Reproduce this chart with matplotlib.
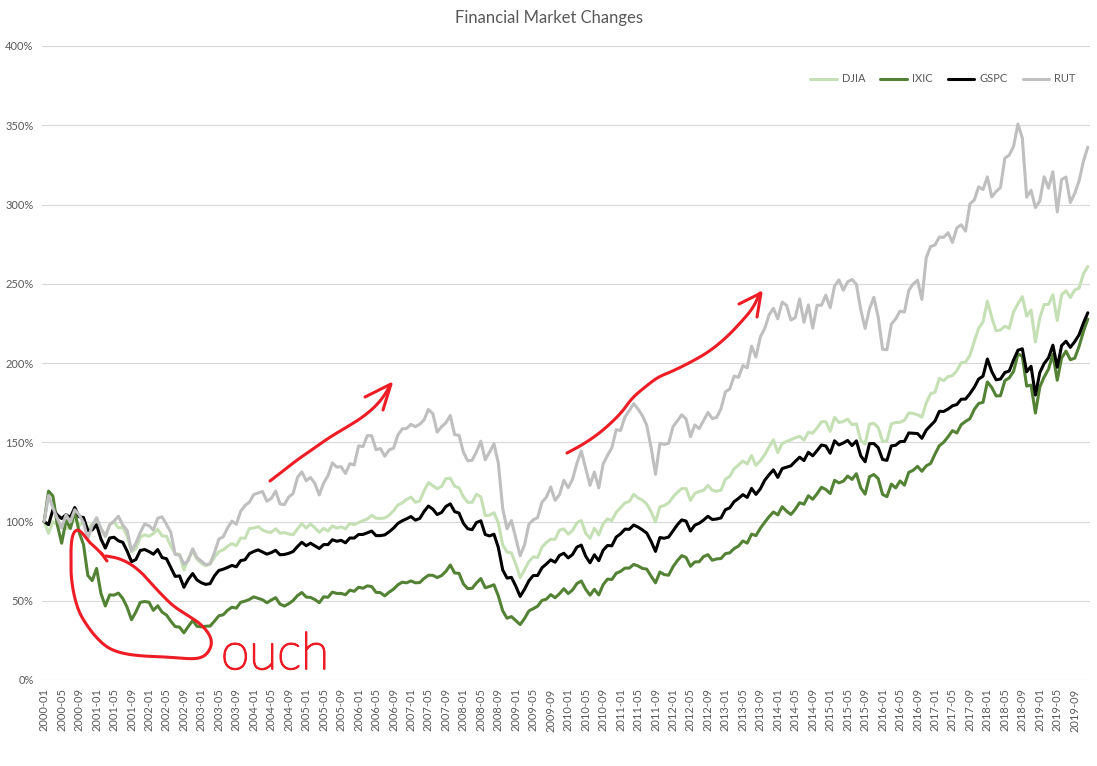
import matplotlib
matplotlib.use("Agg")
import matplotlib.pyplot as plt
import matplotlib.patheffects as pe
import numpy as np
from matplotlib.lines import Line2D
from matplotlib.transforms import Affine2D

plt.rcParams['font.family'] = ['Lato', 'DejaVu Sans']

# ---------------- data ----------------
months = [f"{y}-{m:02d}" for y in range(2000, 2020) for m in range(1, 13)]

djia_close = [
    10940.53, 10128.31, 10921.92, 10733.91, 10522.33, 10447.89, 10521.98, 11215.10, 10650.92, 10971.14, 10414.49, 10786.85,
    10887.36, 10495.28, 9878.78, 10734.97, 10911.94, 10502.40, 10522.81, 9949.75, 8847.56, 9075.14, 9851.56, 10021.50,
    9920.00, 10106.13, 10403.94, 9946.22, 9925.25, 9243.26, 8736.59, 8663.50, 7591.93, 8397.03, 8896.09, 8341.63,
    8053.81, 7891.08, 7992.13, 8480.09, 8850.26, 8985.44, 9233.80, 9415.82, 9275.06, 9801.12, 9782.46, 10453.92,
    10488.07, 10583.92, 10357.70, 10225.57, 10188.45, 10435.48, 10139.71, 10173.92, 10080.27, 10027.47, 10428.02, 10783.01,
    10489.94, 10766.23, 10503.76, 10192.51, 10467.48, 10274.97, 10640.91, 10481.60, 10568.70, 10440.07, 10805.87, 10717.50,
    10864.86, 10993.41, 11109.32, 11367.14, 11168.31, 11150.22, 11185.68, 11381.15, 11679.07, 12080.73, 12221.93, 12463.15,
    12621.69, 12268.63, 12354.35, 13062.91, 13627.64, 13408.62, 13211.99, 13357.74, 13895.63, 13930.01, 13371.72, 13264.82,
    12650.36, 12266.39, 12262.89, 12820.13, 12638.32, 11350.01, 11378.02, 11543.55, 10850.66, 9325.01, 8829.04, 8776.39,
    8000.86, 7062.93, 7608.92, 8168.12, 8500.33, 8447.00, 9171.61, 9496.28, 9712.28, 9712.73, 10344.84, 10428.05,
    10067.33, 10325.26, 10856.63, 11008.61, 10136.63, 9774.02, 10465.94, 10014.72, 10788.05, 11118.49, 11006.02, 11577.51,
    11891.93, 12226.34, 12319.73, 12810.54, 12569.79, 12414.34, 12143.24, 11613.53, 10913.38, 11955.01, 12045.68, 12217.56,
    12632.91, 12952.07, 13212.04, 13213.63, 12393.45, 12880.09, 13008.68, 13090.84, 13437.13, 13096.46, 13025.58, 13104.14,
    13860.58, 14054.49, 14578.54, 14839.80, 15115.57, 14909.60, 15499.54, 14810.31, 15129.67, 15545.75, 16086.41, 16576.66,
    15698.85, 16321.71, 16457.66, 16580.84, 16717.17, 16826.60, 16563.30, 17098.45, 17042.90, 17390.52, 17828.24, 17823.07,
    17164.95, 18132.70, 17776.12, 17840.52, 18010.68, 17619.51, 17689.86, 16528.03, 16284.70, 17663.54, 17719.92, 17425.03,
    16466.30, 16516.50, 17685.09, 17773.64, 17787.20, 17929.99, 18432.24, 18400.88, 18308.15, 18142.42, 19123.58, 19762.60,
    19864.09, 20812.24, 20663.22, 20940.51, 21008.65, 21349.63, 21891.12, 21948.10, 22405.09, 23377.24, 24272.35, 24719.22,
    26149.39, 25029.20, 24103.11, 24163.15, 24415.84, 24271.41, 25415.19, 25964.82, 26458.31, 25115.76, 25538.46, 23327.46,
    24999.67, 25916.00, 25928.68, 26592.91, 24815.04, 26599.96, 26864.27, 26403.28, 26916.83, 27046.23, 28051.41, 28538.44,
]

ixic_close = [
    3940.35, 4696.69, 4572.83, 3860.66, 3400.91, 3966.11, 3766.99, 4206.35, 3672.82, 3369.63, 2597.93, 2470.52,
    2772.73, 2151.83, 1840.26, 2116.24, 2110.49, 2160.54, 2027.13, 1805.43, 1498.80, 1690.20, 1930.58, 1950.40,
    1934.03, 1731.49, 1845.35, 1688.23, 1615.73, 1463.21, 1328.26, 1314.85, 1172.06, 1329.75, 1478.78, 1335.51,
    1320.91, 1337.52, 1341.17, 1464.31, 1595.91, 1622.80, 1735.02, 1810.45, 1786.94, 1932.21, 1960.26, 2003.37,
    2066.15, 2029.82, 1994.22, 1920.15, 1986.74, 2047.79, 1887.36, 1838.10, 1896.84, 1974.99, 2096.81, 2175.44,
    2062.41, 2051.72, 1999.23, 1921.65, 2068.22, 2056.96, 2184.83, 2152.09, 2151.69, 2120.30, 2232.82, 2205.32,
    2305.82, 2281.39, 2339.79, 2322.57, 2178.88, 2172.09, 2091.47, 2183.75, 2258.43, 2366.71, 2431.77, 2415.29,
    2463.93, 2416.15, 2421.64, 2525.09, 2604.52, 2603.23, 2546.27, 2596.36, 2701.50, 2859.12, 2660.96, 2652.28,
    2389.86, 2271.48, 2279.10, 2412.80, 2522.66, 2292.98, 2325.55, 2367.52, 2091.88, 1720.95, 1535.57, 1577.03,
    1476.42, 1377.84, 1528.59, 1717.30, 1774.33, 1835.04, 1978.50, 2009.06, 2122.42, 2045.11, 2144.60, 2269.15,
    2147.35, 2238.26, 2397.96, 2461.19, 2257.04, 2109.24, 2254.70, 2114.03, 2368.62, 2507.41, 2498.23, 2652.87,
    2700.08, 2782.27, 2781.07, 2873.54, 2835.30, 2773.52, 2756.38, 2579.46, 2415.40, 2684.41, 2620.34, 2605.15,
    2813.84, 2966.89, 3091.57, 3046.36, 2827.34, 2935.05, 2939.52, 3066.96, 3116.23, 2977.23, 3010.24, 3019.51,
    3142.13, 3160.19, 3267.52, 3328.79, 3455.91, 3403.25, 3626.37, 3589.87, 3771.48, 3919.71, 4059.89, 4176.59,
    4103.88, 4308.12, 4198.99, 4114.56, 4242.62, 4408.18, 4369.77, 4580.27, 4493.39, 4630.74, 4791.63, 4736.05,
    4635.24, 4963.53, 4900.88, 4941.42, 5070.03, 4986.87, 5128.28, 4776.51, 4620.16, 5053.75, 5108.67, 5007.41,
    4613.95, 4557.95, 4869.85, 4775.36, 4948.05, 4842.67, 5162.13, 5213.22, 5312.00, 5189.13, 5323.68, 5383.12,
    5614.79, 5825.44, 5911.74, 6047.61, 6198.52, 6140.42, 6348.12, 6428.66, 6495.96, 6727.67, 6873.97, 6903.39,
    7411.48, 7273.01, 7063.45, 7066.27, 7442.12, 7510.30, 7671.79, 8109.54, 8046.35, 7305.90, 7330.54, 6635.28,
    7281.74, 7532.53, 7729.32, 8095.39, 7453.15, 8006.24, 8175.42, 7962.88, 7999.34, 8292.36, 8665.47, 8972.60,
]

gspc_close = [
    1394.46, 1366.42, 1498.58, 1452.43, 1420.60, 1454.60, 1430.83, 1517.68, 1436.51, 1429.40, 1314.95, 1320.28,
    1366.01, 1239.94, 1160.33, 1249.46, 1255.82, 1224.42, 1211.23, 1133.58, 1040.94, 1059.78, 1139.45, 1148.08,
    1130.20, 1106.73, 1147.39, 1076.92, 1067.14, 989.82, 911.62, 916.07, 815.28, 885.76, 936.31, 879.82,
    855.70, 841.15, 848.18, 916.92, 963.59, 974.50, 990.31, 1008.01, 995.97, 1050.71, 1058.20, 1111.92,
    1131.13, 1144.94, 1126.21, 1107.30, 1120.68, 1140.84, 1101.72, 1104.24, 1114.58, 1130.20, 1173.82, 1211.92,
    1181.27, 1203.60, 1180.59, 1156.85, 1191.50, 1191.33, 1234.18, 1220.33, 1228.81, 1207.01, 1249.48, 1248.29,
    1280.08, 1280.66, 1294.83, 1310.61, 1270.09, 1270.20, 1276.66, 1303.82, 1335.85, 1377.94, 1400.63, 1418.30,
    1438.24, 1406.82, 1420.86, 1482.37, 1530.62, 1503.35, 1455.27, 1473.99, 1526.75, 1549.38, 1481.14, 1468.36,
    1378.55, 1330.63, 1322.70, 1385.59, 1400.38, 1280.00, 1267.38, 1282.83, 1166.36, 968.75, 896.24, 903.25,
    825.88, 735.09, 797.87, 872.81, 919.14, 919.32, 987.48, 1020.62, 1057.08, 1036.19, 1095.63, 1115.10,
    1073.87, 1104.49, 1169.43, 1186.69, 1089.41, 1030.71, 1101.60, 1049.33, 1141.20, 1183.26, 1180.55, 1257.64,
    1286.12, 1327.22, 1325.83, 1363.61, 1345.20, 1320.64, 1292.28, 1218.89, 1131.42, 1253.30, 1246.96, 1257.60,
    1312.41, 1365.68, 1408.47, 1397.91, 1310.33, 1362.16, 1379.32, 1406.58, 1440.67, 1412.16, 1416.18, 1426.19,
    1498.11, 1514.68, 1569.19, 1597.57, 1630.74, 1606.28, 1685.73, 1632.97, 1681.55, 1756.54, 1805.81, 1848.36,
    1782.59, 1859.45, 1872.34, 1883.95, 1923.57, 1960.23, 1930.67, 2003.37, 1972.29, 2018.05, 2067.56, 2058.90,
    1994.99, 2104.50, 2067.89, 2085.51, 2107.39, 2063.11, 2103.84, 1972.18, 1920.03, 2079.36, 2080.41, 2043.94,
    1940.24, 1932.23, 2059.74, 2065.30, 2096.95, 2098.86, 2173.60, 2170.95, 2168.27, 2126.15, 2198.81, 2238.83,
    2278.87, 2363.64, 2362.72, 2384.20, 2411.80, 2423.41, 2470.30, 2471.65, 2519.36, 2575.26, 2647.58, 2673.61,
    2823.81, 2713.83, 2640.87, 2648.05, 2705.27, 2718.37, 2816.29, 2901.52, 2913.98, 2711.74, 2760.17, 2506.85,
    2704.10, 2784.49, 2834.40, 2945.83, 2752.06, 2941.76, 2980.38, 2926.46, 2976.74, 3037.56, 3140.98, 3230.78,
]

rut_close = [
    496.23, 577.71, 539.09, 506.25, 476.18, 517.23, 495.21, 532.96, 517.22, 492.50, 441.85, 483.53,
    508.34, 474.37, 450.53, 485.85, 497.62, 512.64, 484.85, 468.56, 404.87, 428.17, 461.44, 488.50,
    483.10, 469.36, 506.46, 510.67, 487.47, 462.64, 392.42, 391.42, 362.27, 373.88, 410.86, 383.09,
    372.17, 360.52, 364.54, 398.68, 441.00, 448.37, 476.02, 497.42, 487.68, 528.22, 546.51, 556.91,
    580.76, 585.56, 590.31, 559.80, 568.28, 591.52, 551.29, 548.93, 572.94, 583.79, 633.77, 651.57,
    624.02, 634.06, 615.07, 579.38, 616.71, 639.66, 679.75, 666.51, 667.80, 646.61, 677.29, 673.22,
    733.20, 730.64, 765.14, 764.54, 721.01, 724.67, 700.56, 720.53, 725.59, 766.84, 786.12, 787.66,
    800.34, 793.30, 800.71, 814.57, 847.19, 833.69, 776.13, 792.86, 805.45, 828.02, 767.77, 766.03,
    713.30, 686.18, 687.97, 714.99, 747.48, 689.66, 713.58, 739.50, 679.58, 537.52, 473.14, 499.45,
    443.53, 389.02, 422.75, 487.56, 501.58, 508.28, 556.71, 572.07, 604.28, 562.77, 579.73, 625.39,
    602.04, 628.56, 678.64, 716.60, 662.71, 609.49, 650.89, 601.06, 676.14, 703.35, 727.01, 783.65,
    781.28, 823.45, 843.55, 865.29, 848.30, 827.43, 797.03, 726.81, 644.16, 741.06, 737.42, 740.92,
    792.82, 810.94, 830.30, 816.88, 761.82, 798.49, 786.94, 812.09, 837.45, 818.73, 821.92, 849.35,
    902.09, 911.11, 951.54, 947.46, 984.14, 977.48, 1045.26, 1010.90, 1073.79, 1100.15, 1142.89, 1163.64,
    1130.88, 1183.03, 1173.04, 1126.86, 1134.50, 1192.96, 1120.07, 1174.35, 1101.68, 1173.51, 1173.23, 1204.70,
    1165.39, 1233.37, 1252.77, 1220.13, 1246.53, 1253.95, 1238.68, 1159.44, 1100.69, 1161.86, 1198.11, 1135.89,
    1035.38, 1033.90, 1114.03, 1130.84, 1154.79, 1151.92, 1219.94, 1239.91, 1251.65, 1191.39, 1322.34, 1357.13,
    1361.82, 1386.68, 1385.92, 1400.43, 1370.21, 1415.36, 1425.14, 1405.28, 1490.86, 1502.77, 1544.14, 1535.51,
    1574.98, 1512.45, 1529.43, 1541.88, 1633.61, 1643.07, 1670.80, 1740.75, 1696.57, 1511.41, 1533.27, 1479.00,
    1499.42, 1575.55, 1539.74, 1591.21, 1465.49, 1566.57, 1574.61, 1494.84, 1523.37, 1562.45, 1624.50, 1668.47,
]

series_names = ["DJIA", "IXIC", "GSPC", "RUT"]
series_closes = [djia_close, ixic_close, gspc_close, rut_close]
series_colors = ["#C5E0B4", "#548235", "#000000", "#BFBFBF"]

y_ticks = [0, 50, 100, 150, 200, 250, 300, 350, 400]
y_tick_labels = [f"{t}%" for t in y_ticks]
x_tick_labels = months[::4]

title_text = "Financial Market Changes"

# hand-drawn red annotations (figure pixel coordinates, decoration only)
loop_path = [(103, 555), (96, 548), (90, 543), (84, 535), (78, 529), (73, 533), (71, 545),
             (71, 560), (71, 575), (73, 590), (76, 603), (80, 614), (86, 624), (94, 635),
             (106, 647), (120, 653), (140, 656), (167, 657), (190, 659), (201, 658),
             (208, 653), (212, 644), (210, 635), (201, 624), (187, 615), (173, 606),
             (160, 593), (150, 582), (143, 574), (131, 564), (118, 558), (106, 556)]
loop_hook = [(101, 553), (104, 557), (107, 561)]
arrow1_path = [(270, 481), (283, 471), (297, 460), (313, 449), (330, 437), (347, 427),
               (363, 417), (377, 405), (386, 393), (390, 385)]
arrow1_head = [(365, 397), (391, 384), (383, 410)]
arrow2_path = [(567, 453), (582, 445), (597, 435), (610, 424), (622, 412), (632, 398),
               (645, 387), (658, 377), (673, 371), (693, 361), (710, 351), (727, 337),
               (743, 320), (753, 308), (760, 293)]
arrow2_head = [(739, 304), (761, 293), (757, 317)]
ouch_text = "ouch"


def chaikin(pts, n=3):
    p = np.asarray(pts, float)
    for _ in range(n):
        q = [p[0]]
        for a, b in zip(p[:-1], p[1:]):
            q.append(0.75 * a + 0.25 * b)
            q.append(0.25 * a + 0.75 * b)
        q.append(p[-1])
        p = np.array(q)
    return p


# ---------------- figure ----------------
W, H = 1097, 766
fig = plt.figure(figsize=(W / 100, H / 100), dpi=100)
fig.patch.set_facecolor("white")
ax = fig.add_axes([42 / W, 1 - 680 / H, (1090 - 42) / W, (680 - 46) / H])

x = np.arange(len(months))
for name, closes, color in zip(series_names, series_closes, series_colors):
    c = np.asarray(closes, float)
    ax.plot(x, c / c[0] * 100.0, color=color, lw=2.2, label=name,
            solid_joinstyle="round", solid_capstyle="round")

ax.set_xlim(-0.5, len(months) - 0.5)
ax.set_ylim(0, 400)
ax.set_yticks(y_ticks, y_tick_labels)
ax.set_xticks(x[::4], x_tick_labels, rotation=90)
ax.tick_params(length=0, labelsize=8, colors="#595959")
ax.tick_params(axis="y", pad=6)
ax.tick_params(axis="x", pad=6)
ax.grid(axis="y", color="#D9D9D9", lw=0.8)
ax.grid(axis="x", visible=False)
ax.set_axisbelow(True)
for s in ax.spines.values():
    s.set_visible(False)

ax.legend(loc="center", bbox_to_anchor=(943 / W, 1 - 79 / H), bbox_transform=fig.transFigure,
          ncol=4, frameon=False, fontsize=8, handlelength=2.4, handletextpad=0.45,
          columnspacing=1.35, labelcolor="#595959")

fig.text(549 / W, 1 - 18 / H, title_text, ha="center", va="center", fontsize=12, color="#595959")

# red annotations
pix = Affine2D().scale(1 / W, -1 / H).translate(0, 1) + fig.transFigure
red = "#EE1C25"
for path, smooth in [(loop_path, True), (loop_hook, False), (arrow1_path, True),
                     (arrow1_head, False), (arrow2_path, True), (arrow2_head, False)]:
    p = chaikin(path) if smooth else np.asarray(path, float)
    fig.add_artist(Line2D(p[:, 0], p[:, 1], transform=pix, color=red, lw=2.2,
                          solid_capstyle="round", solid_joinstyle="round", zorder=10))
fig.text(221 / W, 1 - 669 / H, ouch_text, ha="left", va="baseline", fontsize=37,
         fontweight="light", color=red, zorder=10,
         path_effects=[pe.withStroke(linewidth=1.3, foreground=red)])

fig.savefig("out.png", dpi=100)
